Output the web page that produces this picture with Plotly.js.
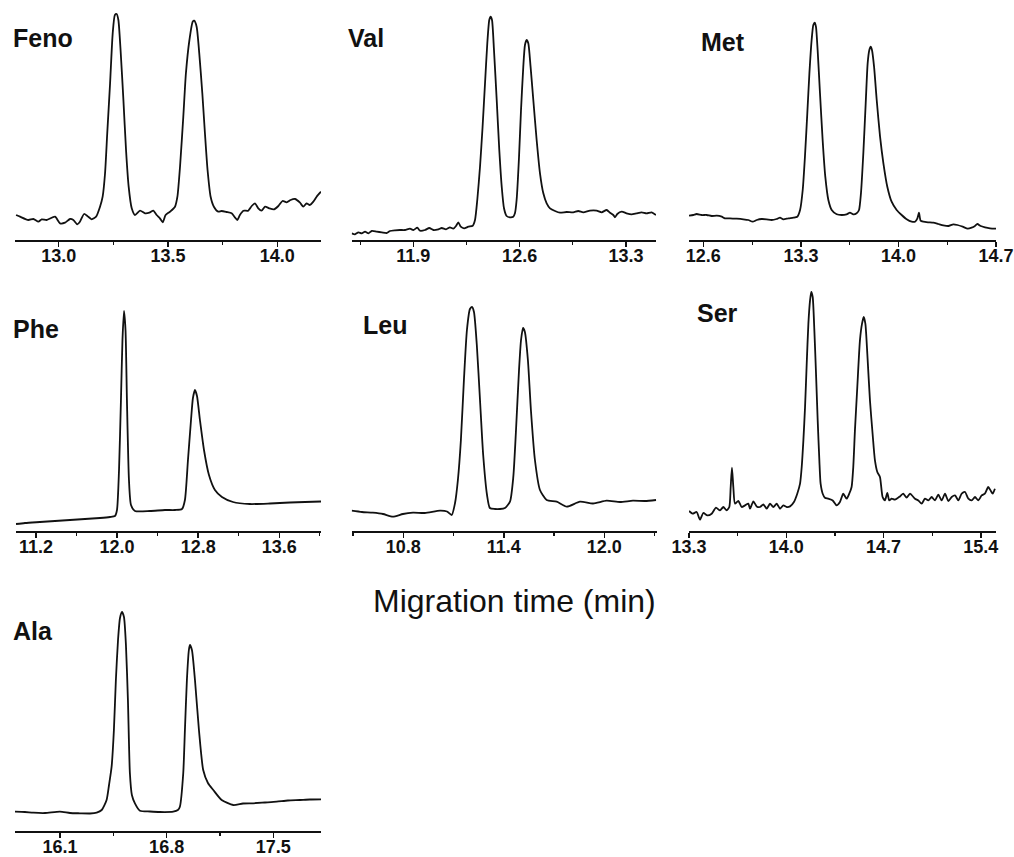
<!DOCTYPE html>
<html>
<head>
<meta charset="utf-8">
<script src="https://cdn.plot.ly/plotly-3.0.1.min.js"></script>
<style>html,body{margin:0;padding:0;background:#fff;}#chart{width:1014px;height:857px;}</style>
</head>
<body>
<div id="chart"></div>
<script>
// ---- Data: migration time (min) and detector signal (a.u.) ----
const panelNames = ["Feno", "Val", "Met", "Phe", "Leu", "Ser", "Ala"];
const axisTitle = "Migration time (min)";

const fenoTime = [12.805,12.823,12.861,12.884,12.907,12.922,12.945,12.983,13.006,13.029,13.052,13.067,13.085,13.097,13.116,13.131,13.151,13.171,13.189,13.201,13.212,13.222,13.235,13.247,13.257,13.265,13.273,13.283,13.296,13.308,13.320,13.334,13.349,13.372,13.395,13.415,13.433,13.448,13.463,13.476,13.489,13.509,13.532,13.543,13.555,13.570,13.582,13.598,13.613,13.620,13.631,13.643,13.657,13.669,13.681,13.695,13.710,13.730,13.745,13.768,13.791,13.806,13.817,13.829,13.845,13.867,13.883,13.898,13.913,13.928,13.944,13.963,13.985,14.005,14.024,14.043,14.061,14.081,14.104,14.119,14.134,14.149,14.165,14.180,14.200];
const fenoSignal = [24.5,22.8,19.5,20.5,17.8,20.2,19.5,22.8,16.2,16.8,20.5,19.5,15.2,17.8,25.5,23.5,20.2,22.8,32.8,42.8,66.2,106.2,156.2,206.2,224.5,225.5,219.5,189.5,139.5,89.5,52.8,31.2,24.5,28.8,26.2,26.8,28.8,24.5,21.2,17.2,24.5,27.8,32.8,42.8,72.8,122.8,166.2,199.5,217.8,218.8,212.8,186.2,146.2,106.2,69.5,42.8,32.8,27.8,28.5,27.5,26.2,22.2,19.5,24.5,28.8,28.8,33.5,36.2,31.2,28.8,32.8,31.2,30.2,33.5,38.5,37.2,39.5,40.5,36.8,32.8,36.2,34.5,37.8,42.8,47.8];

const valTime = [11.494,11.516,11.538,11.560,11.582,11.604,11.626,11.659,11.692,11.724,11.746,11.779,11.812,11.845,11.878,11.900,11.926,11.944,11.977,12.005,12.032,12.065,12.087,12.115,12.141,12.163,12.181,12.196,12.212,12.234,12.262,12.291,12.306,12.321,12.339,12.356,12.372,12.387,12.400,12.409,12.418,12.431,12.449,12.466,12.482,12.497,12.514,12.536,12.558,12.569,12.580,12.596,12.609,12.624,12.635,12.646,12.657,12.672,12.690,12.712,12.734,12.756,12.778,12.800,12.833,12.866,12.909,12.953,12.986,13.019,13.063,13.107,13.140,13.173,13.195,13.217,13.228,13.243,13.272,13.304,13.337,13.370,13.403,13.436,13.469,13.498];
const valSignal = [6.2,5.2,7.2,6.2,7.8,6.2,8.5,7.8,7.2,6.5,8.5,9.2,9.5,9.5,10.8,9.5,11.8,8.8,9.5,11.5,9.5,10.2,11.5,10.2,12.2,10.8,13.5,17.2,12.8,11.2,12.8,13.8,19.5,39.5,72.8,112.8,156.2,196.2,219.5,222.8,219.5,189.5,139.5,89.5,52.8,31.2,23.5,22.2,22.8,26.2,39.5,82.8,129.5,172.8,194.5,199.5,196.2,172.8,139.5,99.5,66.2,46.2,36.2,31.2,28.5,26.8,27.5,27.2,28.5,27.2,28.8,28.8,27.2,29.5,26.8,24.5,22.2,25.5,27.8,26.2,25.2,26.2,27.2,26.2,27.2,24.5];

const metTime = [12.497,12.528,12.552,12.588,12.624,12.660,12.696,12.732,12.755,12.791,12.839,12.887,12.923,12.954,12.983,13.019,13.054,13.090,13.126,13.150,13.174,13.210,13.246,13.274,13.294,13.313,13.329,13.346,13.361,13.377,13.389,13.399,13.408,13.420,13.437,13.456,13.475,13.497,13.521,13.557,13.593,13.628,13.652,13.676,13.700,13.717,13.731,13.748,13.765,13.779,13.791,13.801,13.810,13.825,13.844,13.868,13.892,13.920,13.951,13.987,14.023,14.059,14.095,14.119,14.136,14.147,14.159,14.179,14.214,14.250,14.286,14.322,14.358,14.394,14.423,14.461,14.497,14.525,14.549,14.566,14.590,14.621,14.657,14.700];
const metSignal = [23.8,24.5,25.5,24.5,24.5,23.5,23.8,22.8,21.2,21.2,20.8,20.2,19.5,17.8,19.5,20.5,20.2,19.5,20.5,21.8,20.2,21.2,21.8,22.8,29.5,49.5,82.8,126.2,166.2,199.5,214.5,216.8,212.8,189.5,146.2,99.5,62.8,39.5,29.5,25.2,24.5,25.2,26.8,25.2,26.2,29.5,46.2,86.2,136.2,176.2,189.5,192.8,189.5,172.8,139.5,102.8,76.2,52.8,37.8,29.5,24.5,20.2,17.8,17.8,21.2,26.8,18.8,17.8,17.2,16.8,15.5,14.2,13.5,15.2,14.5,12.8,10.8,11.8,13.5,15.5,13.5,12.2,11.2,10.8];

const pheTime = [11.003,11.092,11.239,11.387,11.535,11.683,11.831,11.930,11.979,11.999,12.019,12.038,12.053,12.068,12.083,12.097,12.117,12.137,12.176,12.324,12.472,12.571,12.640,12.669,12.699,12.729,12.748,12.768,12.788,12.817,12.857,12.906,12.965,13.034,13.143,13.310,13.508,13.705,13.853,14.011];
const pheSignal = [6.7,7.7,8.7,9.7,10.7,11.7,12.7,13.7,14.7,20.7,60.7,130.7,190.7,219.7,200.7,130.7,50.7,25.7,19.7,19.7,20.7,20.7,21.7,30.7,70.7,110.7,132.7,140.7,134.7,110.7,80.7,55.7,40.7,33.7,28.7,26.7,27.2,28.2,28.7,29.2];

const leuTime = [10.492,10.553,10.618,10.679,10.738,10.798,10.858,10.929,11.019,11.061,11.089,11.109,11.126,11.144,11.162,11.180,11.198,11.210,11.222,11.239,11.258,11.277,11.300,11.317,11.347,11.377,11.407,11.437,11.457,11.473,11.491,11.503,11.515,11.526,11.544,11.562,11.586,11.616,11.656,11.716,11.776,11.855,11.933,12.014,12.094,12.171,12.243,12.309];
const leuSignal = [20.0,18.7,18.0,16.7,14.0,16.7,18.0,17.7,20.0,19.2,15.7,27.7,50.7,90.7,150.7,200.7,221.7,223.7,218.7,185.7,130.7,75.7,35.7,22.7,21.7,21.7,22.7,29.0,54.0,100.7,160.7,190.7,202.7,198.7,170.7,120.7,70.7,40.7,30.7,29.0,24.0,29.0,27.2,30.0,28.7,30.0,29.7,30.7];

const serTime = [13.300,13.326,13.355,13.379,13.403,13.432,13.463,13.494,13.523,13.547,13.571,13.590,13.600,13.609,13.619,13.631,13.655,13.679,13.703,13.727,13.739,13.763,13.787,13.811,13.835,13.859,13.883,13.907,13.931,13.955,13.979,14.003,14.027,14.055,14.079,14.099,14.111,14.123,14.135,14.147,14.159,14.171,14.180,14.190,14.202,14.214,14.226,14.238,14.247,14.262,14.278,14.302,14.334,14.362,14.386,14.410,14.434,14.453,14.470,14.482,14.494,14.511,14.530,14.545,14.557,14.569,14.583,14.602,14.621,14.638,14.655,14.674,14.693,14.710,14.727,14.741,14.758,14.782,14.818,14.842,14.866,14.890,14.926,14.950,14.974,14.998,15.022,15.046,15.070,15.094,15.118,15.142,15.166,15.190,15.214,15.238,15.262,15.286,15.310,15.334,15.358,15.382,15.406,15.429,15.453,15.470,15.485,15.501];
const serSignal = [19.7,17.0,18.7,11.0,17.7,15.3,17.0,23.0,20.3,23.7,20.3,23.7,43.7,63.0,43.7,27.0,29.7,23.7,25.3,27.0,22.0,29.3,24.3,23.7,26.3,22.0,27.0,23.7,27.0,22.0,25.3,23.7,24.3,28.7,37.0,47.0,63.7,90.3,123.7,167.0,207.0,230.3,238.7,233.7,200.3,157.0,110.3,70.3,47.0,37.0,33.0,32.0,30.3,25.3,28.7,37.0,32.0,37.0,43.7,63.7,100.3,143.7,190.3,207.0,213.7,207.0,177.0,130.3,97.0,70.3,58.7,53.7,33.7,30.3,37.7,30.3,32.0,31.0,34.3,37.0,33.0,37.0,32.0,30.3,27.0,32.0,30.3,33.7,30.3,36.0,30.3,37.0,29.7,33.7,35.3,30.3,37.0,38.7,32.0,30.3,33.7,30.3,35.3,37.0,43.7,40.3,37.0,42.0];

const alaTime = [15.805,15.870,15.925,16.002,16.100,16.166,16.231,16.297,16.341,16.374,16.406,16.422,16.439,16.454,16.467,16.481,16.494,16.507,16.520,16.533,16.546,16.559,16.572,16.592,16.625,16.691,16.756,16.843,16.874,16.887,16.909,16.920,16.933,16.946,16.953,16.966,16.986,17.012,17.040,17.071,17.106,17.161,17.237,17.301,17.368,17.445,17.522,17.596,17.675,17.740,17.813];
const alaSignal = [19.0,18.7,18.0,17.7,19.0,17.7,17.4,17.2,18.0,20.7,30.7,45.7,64.0,100.7,150.7,190.7,212.7,218.7,213.7,185.7,130.7,57.4,35.7,27.4,20.0,19.2,18.7,19.0,20.7,24.0,57.4,100.7,150.7,180.7,185.7,180.7,150.7,100.7,60.7,47.7,40.7,30.7,25.7,27.2,27.4,28.2,29.0,30.2,30.7,31.2,31.4];

// Tick settings per panel
const tickStart = [13.0, 11.9, 12.6, 11.2, 10.8, 13.3, 16.1];
const tickStep  = [0.5, 0.7, 0.7, 0.8, 0.6, 0.7, 0.7];

// ---- Layout geometry (pixels in the 1014x857 page) ----
const W = 1014, H = 857;
const series = [
  [fenoTime, fenoSignal], [valTime, valSignal], [metTime, metSignal],
  [pheTime, pheSignal], [leuTime, leuSignal], [serTime, serSignal],
  [alaTime, alaSignal]
];
const xPix = [[15,321],[351.7,656],[689,996],[15.7,321],[351.7,656.7],[689,996],[15,321]];
const xRange = [[12.8,14.2],[11.494,13.498],[12.497,14.7],[11.0,14.011],[10.492,12.313],[13.3,15.509],[15.805,17.813]];
const yPix = [[0,239.5],[0,239.5],[0,239.5],[290,530.7],[290,530.7],[290,530.7],[590,830.7]];
const labelPos = [[11,37.5],[346,37.5],[699,42],[11,329],[361,325],[695,313],[11,631]];

const traces = [];
const layout = {
  width: W, height: H,
  margin: {l:0, r:0, t:0, b:0},
  paper_bgcolor: '#ffffff', plot_bgcolor: 'rgba(0,0,0,0)',
  showlegend: false,
  annotations: []
};

for (let i = 0; i < 7; i++) {
  const sfx = i === 0 ? '' : String(i + 1);
  traces.push({
    x: series[i][0], y: series[i][1],
    xaxis: 'x' + sfx, yaxis: 'y' + sfx,
    type: 'scatter', mode: 'lines',
    line: {color: '#111111', width: 1.8, shape: 'spline', smoothing: 0.6},
    hoverinfo: 'skip'
  });
  layout['xaxis' + sfx] = {
    domain: [xPix[i][0] / W, xPix[i][1] / W],
    range: xRange[i],
    anchor: 'y' + sfx,
    showline: true, linecolor: '#111111', linewidth: 2,
    showgrid: false, zeroline: false,
    tickmode: 'linear', tick0: tickStart[i], dtick: tickStep[i],
    tickformat: '.1f',
    ticks: 'outside', ticklen: 5, tickwidth: 1.5, tickcolor: '#111111',
    ticklabelstandoff: -6,
    minor: {tick0: tickStart[i], dtick: tickStep[i] / 2, ticks: 'outside', ticklen: 3, tickwidth: 1.2, tickcolor: '#111111', showgrid: false},
    tickfont: {family: 'Liberation Sans, Arial, sans-serif', size: 18, color: '#111111', weight: 'bold'},
    fixedrange: true
  };
  layout['yaxis' + sfx] = {
    domain: [1 - yPix[i][1] / H, 1 - yPix[i][0] / H],
    range: [0, yPix[i][1] - yPix[i][0]],
    anchor: 'x' + sfx,
    visible: false, fixedrange: true
  };
  layout.annotations.push({
    text: panelNames[i], xref: 'paper', yref: 'paper',
    x: labelPos[i][0] / W, y: 1 - labelPos[i][1] / H,
    xanchor: 'left', yanchor: 'middle', showarrow: false,
    font: {family: 'Liberation Sans, Arial, sans-serif', size: 25, color: '#111111', weight: 'bold'}
  });
}
layout.annotations.push({
  text: axisTitle, xref: 'paper', yref: 'paper',
  x: 514 / W, y: 1 - 601 / H, xanchor: 'center', yanchor: 'middle', showarrow: false,
  font: {family: 'Liberation Sans, Arial, sans-serif', size: 32, color: '#111111'}
});

Plotly.newPlot('chart', traces, layout, {staticPlot: true, displayModeBar: false});
</script>
</body>
</html>
